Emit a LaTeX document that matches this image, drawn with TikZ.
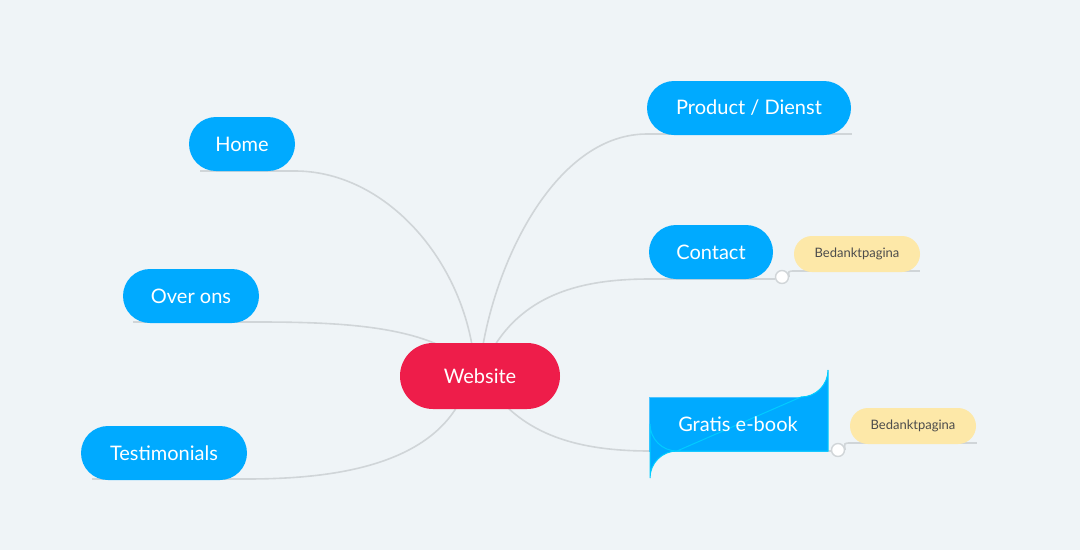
\documentclass[tikz,border=0pt]{standalone}
\usepackage{fontspec}
\setmainfont{Lato}
\usepackage{tikz}
\usetikzlibrary{shapes,backgrounds}
\definecolor{bgcol}{HTML}{EFF4F7}
\definecolor{topicblue}{HTML}{00AAFF}
\definecolor{rootred}{HTML}{EE1D4A}
\definecolor{notecol}{HTML}{FDE8A8}
\definecolor{linkgray}{HTML}{D0D5D8}
\tikzset{
  topic/.style={rounded corners=27pt,fill=topicblue,text=white,minimum height=54pt,
                inner sep=0pt,font=\fontsize{20}{24}\selectfont},
  note/.style={rounded corners=18pt,fill=notecol,text=black!70,minimum height=36pt,
                minimum width=126pt,inner sep=0pt,font=\fontsize{13}{16}\selectfont},
  link/.style={draw=linkgray,line width=1.6pt},
  knob/.style={circle,draw=linkgray,fill=white,line width=1.4pt,minimum size=13pt,inner sep=0pt}
}
\begin{document}
\begin{tikzpicture}[x=1pt,y=-1pt]
  \fill[bgcol] (0,0) rectangle (1080,550);
  \useasboundingbox (0,0) rectangle (1080,550);

  % underlines
  \coordinate (h1) at (200,171); \coordinate (h2) at (295,171);
  \coordinate (o1) at (133,322); \coordinate (o2) at (258,322);
  \coordinate (t1) at (92,479);  \coordinate (t2) at (246,479);
  \coordinate (p1) at (647,134); \coordinate (p2) at (852,134);
  \coordinate (c1) at (650,279); \coordinate (c2) at (775,279);
  \coordinate (g1) at (650,451); \coordinate (g2) at (831,451);
  \coordinate (b1) at (795,271); \coordinate (b2) at (920,271);
  \coordinate (d1) at (851,443); \coordinate (d2) at (977,443);
  \foreach \a/\b in {h1/h2,o1/o2,t1/t2,p1/p2,c1/c2,g1/g2,b1/b2,d1/d2}
    \draw[link] (\a) -- (\b);

  % branches
  \draw[link] (472,345) .. controls (455,250) and (380,171) .. (h2);
  \draw[link] (445,348) .. controls (400,325) and (330,322) .. (o2);
  \draw[link] (458,405) .. controls (420,470) and (320,479) .. (t2);
  \draw[link] (483,345) .. controls (500,250) and (560,134) .. (p1);
  \draw[link] (495,345) .. controls (530,290) and (590,279) .. (c1);
  \draw[link] (505,405) .. controls (540,440) and (590,451) .. (g1);

  \node[topic,minimum width=106pt] (home) at (242,144) {Home};
  \node[topic,minimum width=136pt] (over) at (191,296) {Over ons};
  \node[topic,minimum width=166pt] (test) at (164,453) {Testimonials};
  \node[topic,minimum width=204pt] (prod) at (749,108) {Product / Dienst};
  \node[topic,minimum width=124pt] (cont) at (711,252) {Contact};
  \node[topic,minimum width=178pt,rounded corners=0pt,draw=topicblue!70!white,line width=1pt,
        path picture={}] (grat) at (738,424) {};
  \fill[topicblue,draw=topicblue!60!cyan,line width=1pt]
    (650,424) arc[start angle=180,end angle=90,radius=27]
    -- (801,397) arc[start angle=90,end angle=0,radius=27] -- (828,451) -- (677,451)
    arc[start angle=270,end angle=180,radius=27] -- cycle;
  \node[text=white,font=\fontsize{20}{24}\selectfont] at (grat) {Gratis e-book};
  \node[rounded corners=33pt,fill=rootred,text=white,minimum width=160pt,minimum height=66pt,
        inner sep=0pt,font=\fontsize{20}{24}\selectfont] (web) at (480,376) {Website};

  \node[note] (bed1) at (857,254) {Bedanktpagina};
  \node[note] (bed2) at (913,426) {Bedanktpagina};

  \node[knob] (k1) at (782,277) {};
  \node[knob] (k2) at (838,450) {};
  \draw[link] (k1.east) .. controls (788,271) .. (b1);
  \draw[link] (k2.east) .. controls (844,443) .. (d1);
\end{tikzpicture}
\end{document}
